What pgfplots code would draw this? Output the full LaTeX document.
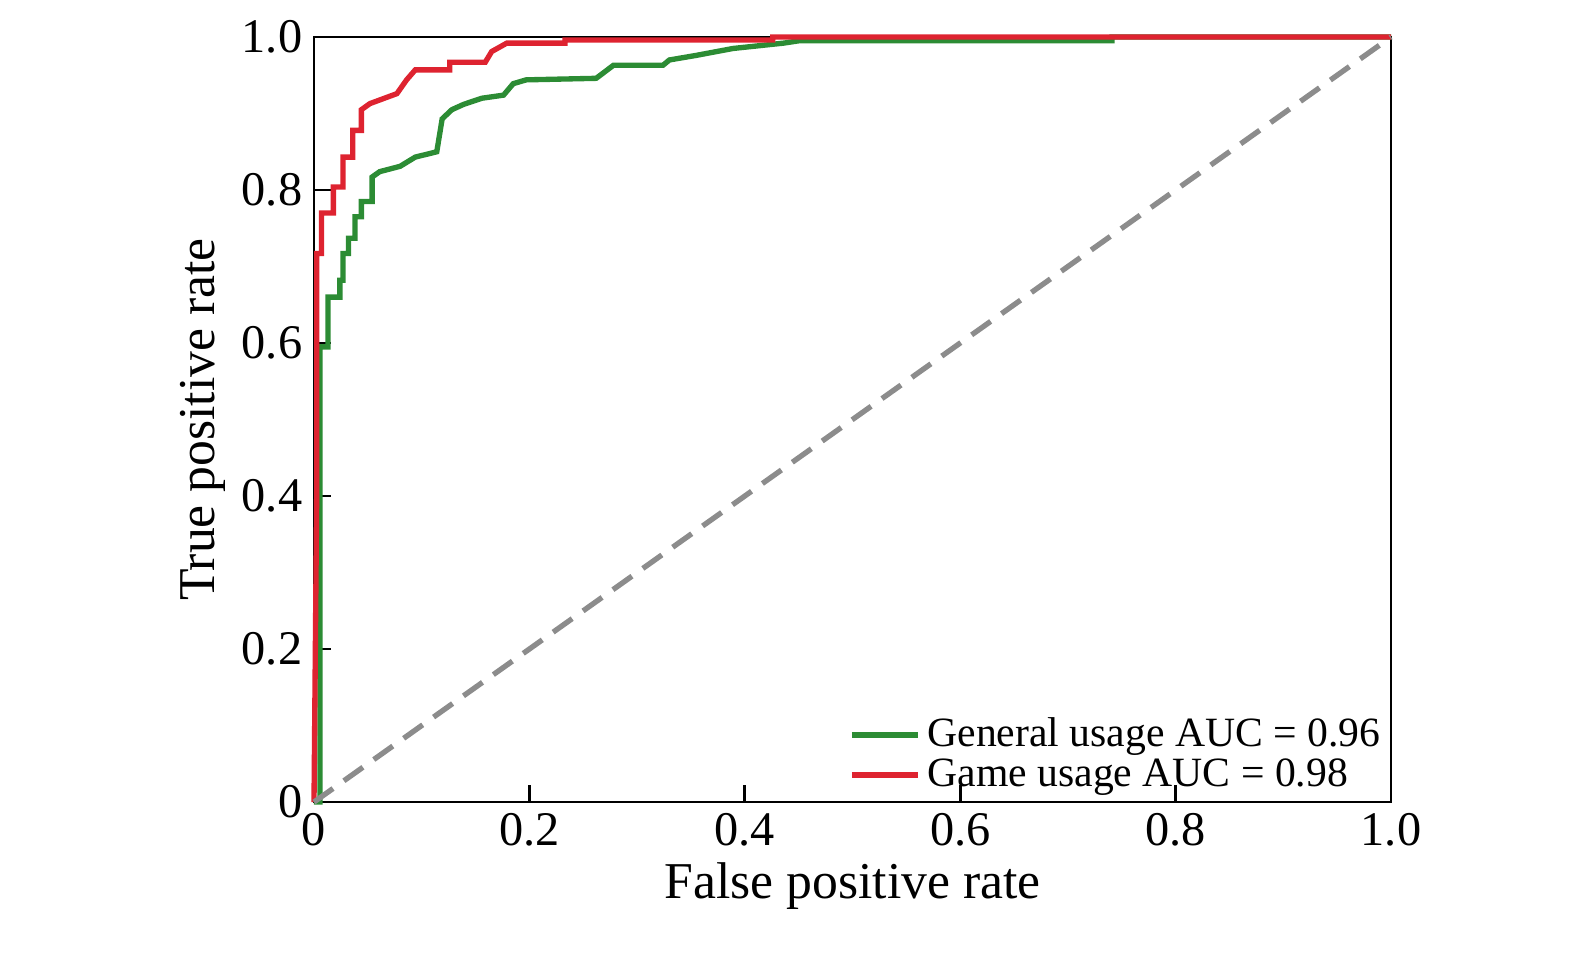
\documentclass[border=0pt]{standalone}
\usepackage{pgfplots}
\pgfplotsset{compat=1.18}
\usetikzlibrary{calc}
\usepackage{fontspec}
\setmainfont{Liberation Serif}
\definecolor{cgreen}{RGB}{44,140,52}
\definecolor{cred}{RGB}{222,35,48}
\begin{document}
\begin{tikzpicture}
\begin{axis}[
  scale only axis, width=323.1pt, height=229.5pt,
  xmin=0, xmax=1, ymin=0, ymax=1,
  xtick={0,0.2,0.4,0.6,0.8,1.0}, xticklabels={0,0.2,0.4,0.6,0.8,1.0},
  ytick={0,0.2,0.4,0.6,0.8,1.0}, yticklabels={0,0.2,0.4,0.6,0.8,1.0},
  tick align=inside, xtick pos=bottom, ytick pos=left,
  major tick length=5pt,
  tick style={black, line width=0.8pt},
  axis line style={line width=0.8pt},
  ticklabel style={font=\fontsize{14.5}{16}\selectfont},
  xlabel={False positive rate}, ylabel={True positive rate},
  label style={font=\fontsize{15.5}{18}\selectfont},
  xlabel style={yshift=2pt}, ylabel style={yshift=-2pt},
  legend style={draw=none, fill=none, at={(1,0)}, anchor=south east, font=\fontsize{12.5}{14}\selectfont, row sep=-2pt, inner sep=1pt},
  legend cell align=left,
  legend image code/.code={\draw[#1, line width=1.6pt] (0,0) -- (0.7cm,0);},
  clip=false,
]
\addplot[cgreen, line width=1.6pt] coordinates {
(0,0) (0.0056,0) (0.0056,0.456) (0.0056,0.595) (0.013,0.595) (0.013,0.66) (0.024,0.66) (0.024,0.682)
(0.027,0.682) (0.027,0.717) (0.032,0.717) (0.032,0.737) (0.038,0.737) (0.038,0.765) (0.044,0.765) (0.044,0.785)
(0.054,0.785) (0.054,0.817) (0.061,0.824) (0.080,0.831) (0.094,0.843) (0.114,0.850) (0.119,0.893)
(0.128,0.905) (0.139,0.912) (0.156,0.920) (0.176,0.924) (0.185,0.939) (0.197,0.944) (0.262,0.946)
(0.278,0.963) (0.324,0.963) (0.330,0.970) (0.355,0.976) (0.389,0.985) (0.436,0.992) (0.45,0.995) (0.741,0.995) (0.741,1) (1,1)};
\addlegendentry{General usage AUC = 0.96}
\addplot[cred, line width=1.6pt] coordinates {
(0,0) (0.0025,0.4) (0.0025,0.717) (0.007,0.717) (0.007,0.770) (0.018,0.770) (0.018,0.804) (0.027,0.804) (0.027,0.843)
(0.036,0.843) (0.036,0.878) (0.044,0.878) (0.044,0.905) (0.052,0.913) (0.077,0.926) (0.086,0.944) (0.094,0.957)
(0.126,0.957) (0.126,0.967) (0.159,0.967) (0.165,0.981) (0.179,0.992) (0.233,0.992) (0.233,0.996) (0.426,0.996) (0.426,1) (1,1)};
\addlegendentry{Game usage AUC = 0.98}
\addplot[gray!90, line width=1.6pt, dash pattern=on 7pt off 4pt, forget plot] coordinates {(0,0) (1,1)};
\path[use as bounding box] ($(rel axis cs:0,0)+(-94.2pt,-46.8pt)$) rectangle ($(rel axis cs:1,1)+(55.2pt,11.1pt)$);
\end{axis}
\end{tikzpicture}
\end{document}
